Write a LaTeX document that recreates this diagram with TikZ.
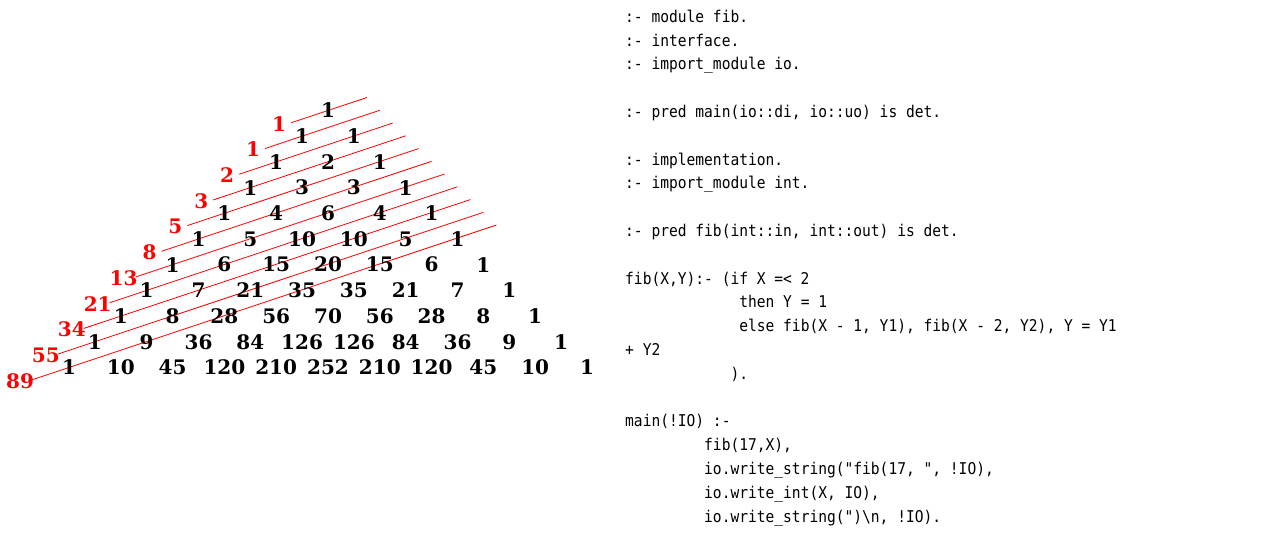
\documentclass[tikz,border=0pt]{standalone}
\usepackage{fontspec}
\newfontfamily\numfont{DejaVu Serif}
\newfontfamily\codefont{DejaVu Sans Mono}[FakeStretch=0.9]
\usetikzlibrary{calc}
\pgfdeclarelayer{bg}
\pgfsetlayers{bg,main}
\newcommand\cind[1]{\hspace*{#1\fontcharwd\font`0}}

\begin{document}
\begin{tikzpicture}[x=1pt,y=-1pt,
  num/.style={font=\numfont\bfseries\fontsize{20}{24}\selectfont,inner sep=0pt},
  fibnum/.style={num,text=red},
  diag/.style={red,line width=0.8pt},
  code/.style={font=\codefont\fontsize{16.2}{23.8}\selectfont\frenchspacing,align=left,inner sep=0pt,anchor=base west}]
\begin{pgfonlayer}{bg}
  \fill[white] (0,0) rectangle (1278,546);
\end{pgfonlayer}
\useasboundingbox (0,0) rectangle (1278,546);

% Pascal triangle
\foreach \row [count=\n from 0] in {{1},{1,1},{1,2,1},{1,3,3,1},{1,4,6,4,1},{1,5,10,10,5,1},
    {1,6,15,20,15,6,1},{1,7,21,35,35,21,7,1},{1,8,28,56,70,56,28,8,1},
    {1,9,36,84,126,126,84,36,9,1},{1,10,45,120,210,252,210,120,45,10,1}}
  \foreach \v [count=\k from 0] in \row
    \node[num] (r\n-\k) at ({328+(2*\k-\n)*25.9},{110.5+25.7*\n}) {\v};

% shallow diagonals and their sums
\foreach \f [count=\n from 0] in {1,1,2,3,5,8,13,21,34,55,89}{
  \coordinate (s\n) at ($(r\n-0)+(-37,12.3)$);
  \coordinate (e\n) at ($(r\n-0)+({38.85*(\n+1)},{-12.95*(\n+1)})$);
  \node[fibnum] (f\n) at ($(s\n)+(-12,1)$) {\f};
  \begin{pgfonlayer}{bg}
    \draw[diag] (s\n) -- (e\n);
  \end{pgfonlayer}
}

% Mercury program (base = last line)
\node[code] (prog) at (625,522) {:- module fib.\\
:- interface.\\
:- import\_module io.\\
~\\
:- pred main(io::di, io::uo) is det.\\
~\\
:- implementation.\\
:- import\_module int.\\
~\\
:- pred fib(int::in, int::out) is det.\\
~\\
fib(X,Y):- (if X =< 2\\
\cind{13}then Y = 1\\
\cind{13}else fib(X - 1, Y1), fib(X - 2, Y2), Y = Y1\\
+ Y2\\
\cind{12}).\\
~\\
main(!IO) :-\\
\cind{9}fib(17,X),\\
\cind{9}io.write\_string("fib(17, ", !IO),\\
\cind{9}io.write\_int(X, IO),\\
\cind{9}io.write\_string(")\textbackslash n, !IO).};
\end{tikzpicture}
\end{document}
